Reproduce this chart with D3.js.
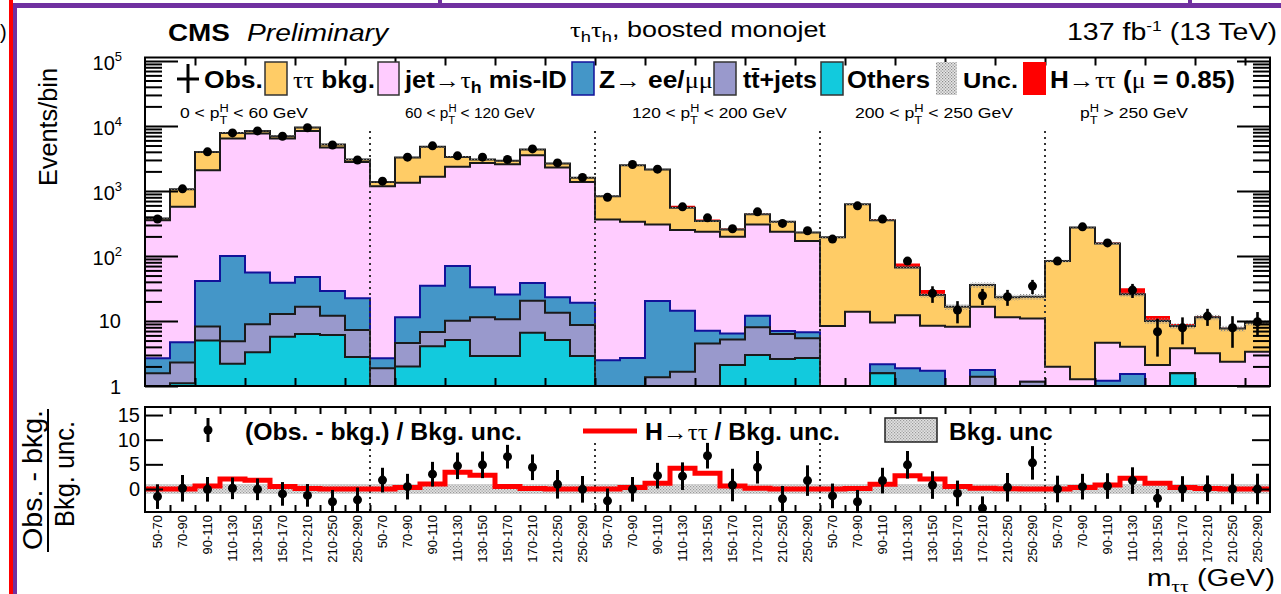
<!DOCTYPE html>
<html>
<head>
<meta charset="utf-8">
<script src="https://cdn.jsdelivr.net/npm/d3@7"></script>
<style>
  body { margin: 0; background: #fff; }
  svg { display: block; }
  text { font-family: "Liberation Sans", Arial, Helvetica, sans-serif; fill: #000; }
</style>
</head>
<body>
<svg id="chart" width="1281" height="594"></svg>
<script>
// ---------------- data ----------------
const massBins = ["50-70", "70-90", "90-110", "110-130", "130-150", "150-170", "170-210", "210-250", "250-290"];
const ptLow  = [0, 60, 120, 200, 250];
const ptHigh = [60, 120, 200, 250, null];

// expected yields per bin (5 pT categories x 9 mass bins)
const others = [
  0.3, 1.1, 5.0, 2.2, 3.3, 5.7, 6.3, 6.1, 2.8,
  0.4, 2.0, 4.1, 5.1, 2.9, 2.9, 6.6, 5.1, 2.9,
  0.2, 0.2, 0.3, 0.3, 0.4, 2.1, 3.0, 2.6, 2.7,
  0.1, 0.1, 1.57, 0.2, 0.2, 0.2, 0.2, 0.1, 0.1,
  0.1, 0.1, 0.2, 0.2, 0.1, 1.57, 0.1, 0.1, 0.1];
const ttjets = [
  1.27, 1.2, 3.2, 2.7, 5.6, 7.1, 10.3, 5.9, 4.5,
  1.47, 2.6, 2.7, 5.0, 8.5, 7.7, 13.9, 8.3, 5.8,
  0.3, 0.3, 1.06, 1.36, 4.1, 3.1, 5.0, 3.7, 2.74,
  0.1, 0.1, 0.0, 0.2, 0.2, 0.2, 1.19, 0.1, 1.06,
  0.1, 0.1, 0.2, 0.2, 0.1, 0.0, 0.1, 0.1, 0.1];
const zll = [
  1.1, 2.4, 33, 95, 47, 26, 31, 17, 15,
  0.8, 6.8, 28, 60, 21.5, 15, 18, 9.7, 10.4,
  2.0, 2.2, 19, 12.7, 2.55, 1.2, 4.0, 0.7, 1.3,
  0.1, 0.1, 0.6, 1.47, 1.32, 0.2, 0.37, 0.1, 0.0,
  0.1, 0.1, 0.8, 1.13, 0.1, 0.0, 0.1, 0.1, 0.1];
const jetFakes = [
  353, 565, 2050, 6310, 7600, 6370, 8350, 4640, 2780,
  1183, 1322, 1614, 2280, 2670, 2560, 3515, 2277, 1361,
  362, 332, 285, 236, 228, 191, 293, 228, 164,
  8.06, 13.6, 7.35, 10.4, 6.7, 7.55, 14.8, 11.1, 9.8,
  1.68, 0.97, 3.42, 2.49, 1.8, 2.23, 2.88, 2.06, 3.07];
const tautau = [
  22, 497, 1900, 1410, 740, 554, 1070, 523, 245,
  194, 1942, 3120, 993, 345, 321, 793, 349, 212,
  467, 2160, 1840, 300, 109, 59, 135, 100, 59,
  185, 613, 346, 54.4, 16.6, 8.45, 19.1, 11.7, 12.6,
  81.4, 274, 151, 21.7, 7.9, 4.56, 8.2, 5.3, 6.0];
const higgs = [
  1, 3, 20, 60, 50, 20, 10, 5, 2,
  2, 10, 40, 80, 60, 50, 15, 5, 2,
  0.5, 5, 15, 40, 21, 8, 5, 2, 1,
  0.2, 3, 13, 10.2, 4.9, 0.4, 0.5, 0.3, 0.2,
  0.2, 2, 6, 6.1, 1.9, 0.6, 0.4, 0.2, 0.2];
const bkgRelUnc = [
  0.02, 0.02, 0.02, 0.02, 0.02, 0.02, 0.02, 0.02, 0.02,
  0.02, 0.02, 0.02, 0.02, 0.02, 0.02, 0.02, 0.02, 0.02,
  0.03, 0.02, 0.02, 0.03, 0.03, 0.03, 0.03, 0.03, 0.03,
  0.04, 0.03, 0.04, 0.06, 0.08, 0.1, 0.1, 0.1, 0.1,
  0.05, 0.04, 0.05, 0.08, 0.1, 0.1, 0.1, 0.1, 0.1];

// observed events and their uncertainties
const observed = [
  370, 1078, 4000, 7820, 8400, 6950, 9400, 5100, 3000,
  1416, 3310, 4940, 3470, 3310, 3050, 4440, 2705, 1614,
  800, 2557, 2166, 570, 386, 262, 478, 317, 244,
  182, 590, 369, 83.4, 26.6, 14.7, 24.4, 23.6, 34.4,
  83.4, 281, 159, 29.9, 6.83, 7.87, 11.9, 7.87, 9.73];
const observedErr = [
  19, 33, 63, 88, 92, 83, 97, 71, 55,
  38, 58, 70, 59, 58, 55, 67, 52, 40,
  28, 51, 47, 24, 20, 16, 22, 18, 16,
  13.5, 24, 19, 9.1, 7.6, 5.5, 6.8, 6.5, 8.5,
  9.1, 17, 12.6, 7.3, 4.0, 3.5, 3.5, 4.0, 4.0];

// lower panel: (obs - bkg) / bkg. unc. and signal / bkg. unc.
const pull = [
  -1.55, 0.14, -0.07, 0.14, -0.07, -1.0, -1.3, -2.6, -2.2,
  1.8, 0.47, 3.0, 4.7, 4.9, 6.55, 4.4, 0.95, -0.07,
  -2.4, -0.07, 2.7, 2.6, 6.75, 0.8, 4.4, -2.0, 1.7,
  -1.4, -2.6, 1.7, 4.9, 0.8, -0.9, -3.9, 0.34, 5.3,
  0, 0.47, 0.6, 1.7, -1.9, 0, 0.14, 0, 0];
const pullErr = [
  2.5, 2.7, 2.5, 2.2, 2.2, 2.4, 2.3, 2.4, 2.5,
  2.5, 2.6, 2.5, 2.7, 2.7, 2.4, 2.6, 2.9, 2.7,
  2.5, 2.5, 2.6, 2.8, 2.6, 3.3, 3.3, 2.6, 3.1,
  2.5, 2.4, 2.6, 2.8, 2.8, 2.6, 2.4, 2.9, 3.4,
  2.7, 2.6, 2.6, 2.7, 1.9, 2.6, 2.6, 3.1, 3.1];
const signalOverUnc = [
  0, 0, 0.6, 2.0, 1.75, 0.5, 0.1, 0, 0,
  0, 0.3, 1.0, 3.4, 2.8, 0.5, 0.1, 0, 0,
  0, 0.3, 1.15, 4.2, 3.2, 0.6, 0.13, 0, 0,
  0, 0.1, 0.95, 2.7, 2.0, 0.5, 0.13, 0.05, 0,
  0, 0.3, 0.8, 2.2, 1.15, 0.3, 0.1, 0, 0];

// ---------------- setup ----------------
const nBins = massBins.length * ptLow.length;
const svg = d3.select("#chart");
const SERIF = '"Liberation Serif", "Times New Roman", serif';

const x = d3.scaleLinear().domain([0, nBins]).range([145, 1270]);
const yTop = d3.scaleLog().domain([1, 1.13e5]).range([386, 57.5]).clamp(true);
const yBot = d3.scaleLinear().domain([-4.67, 16.63]).range([512, 407]);

const [xL, xR] = x.range();
const [topB, topT] = yTop.range();
const [botB, botT] = yBot.range();

const defs = svg.append("defs");
defs.append("clipPath").attr("id", "clipTop").append("rect")
  .attr("x", xL).attr("y", topT).attr("width", xR - xL).attr("height", topB - topT);
defs.append("clipPath").attr("id", "clipBot").append("rect")
  .attr("x", xL).attr("y", botT).attr("width", xR - xL).attr("height", botB - botT);

// stipple fills for the uncertainty bands
const pTop = defs.append("pattern").attr("id", "stipTop").attr("width", 3).attr("height", 3)
  .attr("patternUnits", "userSpaceOnUse");
pTop.append("rect").attr("x", 0).attr("y", 0).attr("width", 1.2).attr("height", 1.2).attr("fill", "#8a8a8a");
pTop.append("rect").attr("x", 1.5).attr("y", 1.5).attr("width", 1.2).attr("height", 1.2).attr("fill", "#8a8a8a");
const pBot = defs.append("pattern").attr("id", "stipBot").attr("width", 3).attr("height", 3)
  .attr("patternUnits", "userSpaceOnUse");
pBot.append("rect").attr("width", 3).attr("height", 3).attr("fill", "#e2e2e2");
pBot.append("rect").attr("x", 0).attr("y", 0).attr("width", 1.2).attr("height", 1.2).attr("fill", "#9a9a9a");
pBot.append("rect").attr("x", 1.5).attr("y", 1.5).attr("width", 1.2).attr("height", 1.2).attr("fill", "#9a9a9a");

// text helper: tspans, optional horizontal fit to a given width
function rich(g, x0, yb, size, parts, width, anchor) {
  const t = g.append("text").attr("x", x0).attr("y", yb).attr("font-size", size);
  if (anchor) t.attr("text-anchor", anchor);
  parts.forEach(p => {
    const s = t.append("tspan").text(p.t);
    if (p.b) s.attr("font-weight", "bold");
    if (p.i) s.attr("font-style", "italic");
    if (p.serif) s.attr("font-family", SERIF).attr("font-weight", "normal");
    if (p.fs) s.attr("font-size", p.fs);
    if (p.dy) s.attr("dy", p.dy);
    if (p.dx) s.attr("dx", p.dx);
  });
  if (width) {
    const w = t.node().getBBox().width;
    const s = width / w;
    t.attr("transform", `translate(${x0},0) scale(${s},1) translate(${-x0},0)`);
  }
  return t;
}

function stepPts(vals) {
  const p = [];
  vals.forEach((v, i) => { p.push([i, v]); p.push([i + 1, v]); });
  return p;
}

// ---------------- page decorations ----------------
svg.append("rect").attr("width", 1281).attr("height", 594).attr("fill", "#fff");
svg.append("rect").attr("x", 14).attr("y", 3).attr("width", 1267).attr("height", 5).attr("fill", "#7030a0");
svg.append("rect").attr("x", 438).attr("y", 0).attr("width", 4).attr("height", 4).attr("fill", "#7030a0");
svg.append("rect").attr("x", 1188).attr("y", 0).attr("width", 4).attr("height", 4).attr("fill", "#7030a0");
svg.append("rect").attr("x", 9).attr("y", 0).attr("width", 4).attr("height", 594).attr("fill", "#ff0000");
svg.append("rect").attr("x", 13).attr("y", 3).attr("width", 4).attr("height", 591).attr("fill", "#7030a0");
svg.append("text").attr("x", 0).attr("y", 39).attr("font-size", 20).text(")");

// ---------------- top panel: stacked histograms ----------------
const rows = d3.range(nBins).map(i => ({
  others: others[i], ttjets: ttjets[i], zll: zll[i],
  jetFakes: jetFakes[i], tautau: tautau[i], higgs: higgs[i]
}));
const keys = ["others", "ttjets", "zll", "jetFakes", "tautau", "higgs"];
const styles = {
  others:   { fill: "#12cadd", stroke: "#1a1a1a" },
  ttjets:   { fill: "#9999cc", stroke: "#1a1a1a" },
  zll:      { fill: "#4496c8", stroke: "#12129a" },
  jetFakes: { fill: "#ffccff", stroke: "#1a1a1a" },
  tautau:   { fill: "#ffcc66", stroke: "#1a1a1a" },
  higgs:    { fill: "#ff0000", stroke: "none" }
};
const stacked = d3.stack().keys(keys)(rows);

const gTop = svg.append("g").attr("clip-path", "url(#clipTop)");
const areaTop = d3.area().x(d => x(d[0])).y0(topB).y1(d => yTop(Math.max(d[1], 0.5)));
const lineTop = d3.line().x(d => x(d[0])).y(d => yTop(Math.max(d[1], 0.5)));

stacked.slice().reverse().forEach(s => {
  const pts = stepPts(s.map(d => d[1]));
  const st = styles[s.key];
  gTop.append("path").attr("d", areaTop(pts)).attr("fill", st.fill);
  if (st.stroke !== "none") {
    gTop.append("path").attr("d", lineTop(pts)).attr("fill", "none")
      .attr("stroke", st.stroke).attr("stroke-width", 2);
  }
});

// background uncertainty band
const bkgTotal = stacked[keys.indexOf("tautau")].map(d => d[1]);
const bandPts = [];
bkgTotal.forEach((v, i) => {
  const lo = v * (1 - bkgRelUnc[i]), hi = v * (1 + bkgRelUnc[i]);
  bandPts.push([i, lo, hi]); bandPts.push([i + 1, lo, hi]);
});
gTop.append("path")
  .attr("d", d3.area().x(d => x(d[0])).y0(d => yTop(d[1])).y1(d => yTop(d[2]))(bandPts))
  .attr("fill", "url(#stipTop)");

// category separators
const catEdges = d3.range(1, ptLow.length).map(c => c * massBins.length);
gTop.selectAll(".sepT").data(catEdges).join("line")
  .attr("x1", d => x(d)).attr("x2", d => x(d)).attr("y1", 131).attr("y2", topB)
  .attr("stroke", "#333").attr("stroke-width", 2).attr("stroke-dasharray", "2,4");

// observed data
const obsG = gTop.append("g");
obsG.selectAll("line").data(observed).join("line")
  .attr("x1", (d, i) => x(i + 0.5)).attr("x2", (d, i) => x(i + 0.5))
  .attr("y1", (d, i) => yTop(Math.max(d - observedErr[i], 0.5)))
  .attr("y2", (d, i) => yTop(d + observedErr[i]))
  .attr("stroke", "#000").attr("stroke-width", 2.6);
obsG.selectAll("circle").data(observed).join("circle")
  .attr("cx", (d, i) => x(i + 0.5)).attr("cy", d => yTop(d)).attr("r", 4.5).attr("fill", "#000");

// axes of the top panel
const logTicks = yTop.ticks();
const isDecade = v => Math.abs(Math.log10(v) - Math.round(Math.log10(v))) < 1e-9;
const majors = logTicks.filter(isDecade);
const minors = logTicks.filter(v => !isDecade(v));

function styleAxis(g) {
  g.select(".domain").remove();
  g.selectAll(".tick line").attr("stroke", "#000").attr("stroke-width", 2);
  g.selectAll(".tick text").remove();
}
svg.append("g").attr("transform", `translate(${xL},0)`)
  .call(d3.axisLeft(yTop).tickValues(majors).tickSize(-33)).call(styleAxis);
svg.append("g").attr("transform", `translate(${xL},0)`)
  .call(d3.axisLeft(yTop).tickValues(minors).tickSize(-17)).call(styleAxis);
svg.append("g").attr("transform", `translate(${xR},0)`)
  .call(d3.axisRight(yTop).tickValues(majors).tickSize(-33)).call(styleAxis);
svg.append("g").attr("transform", `translate(${xR},0)`)
  .call(d3.axisRight(yTop).tickValues(minors).tickSize(-17)).call(styleAxis);
const evenEdges = d3.range(2, nBins, 2);
svg.append("g").attr("transform", `translate(0,${topT})`)
  .call(d3.axisTop(x).tickValues(evenEdges).tickSize(-8)).call(styleAxis);
svg.append("g").attr("transform", `translate(0,${topB})`)
  .call(d3.axisBottom(x).tickValues(evenEdges).tickSize(-8)).call(styleAxis);

svg.append("rect").attr("x", xL).attr("y", topT).attr("width", xR - xL).attr("height", topB - topT)
  .attr("fill", "none").attr("stroke", "#000").attr("stroke-width", 2);

// y tick labels (powers of ten)
majors.forEach(v => {
  const e = Math.round(Math.log10(v));
  const yy = yTop(v);
  if (e >= 2) {
    rich(svg, 122, yy + 9.5, 20, [{ t: "10" }, { t: String(e), fs: 13, dy: -9 }], null, "end");
  } else {
    svg.append("text").attr("x", 121).attr("y", yy + 7.5).attr("text-anchor", "end")
      .attr("font-size", 20).text(e === 1 ? "10" : "1");
  }
});

svg.append("text").attr("transform", "translate(57,127) rotate(-90)")
  .attr("text-anchor", "middle").attr("font-size", 25)
  .attr("textLength", 118).attr("lengthAdjust", "spacingAndGlyphs").text("Events/bin");

// category labels
const catLabelX = [180, 405, 632, 855, 1080];
const catLabelW = [128, 130, 155, 158, 108];
ptLow.forEach((lo, c) => {
  const hi = ptHigh[c];
  const parts = hi === null
    ? [{ t: "p" }, { t: "H", fs: 11, dy: -6 }, { t: "T", fs: 11, dx: -8, dy: 12 }, { t: ` > ${lo} GeV`, dx: 1, dy: -6 }]
    : [{ t: `${lo} < p` }, { t: "H", fs: 11, dy: -6 }, { t: "T", fs: 11, dx: -8, dy: 12 }, { t: ` < ${hi} GeV`, dx: 1, dy: -6 }];
  rich(svg, catLabelX[c], 118, 15, parts, catLabelW[c]);
});

// ---------------- header ----------------
rich(svg, 168, 41, 23.5, [{ t: "CMS", b: 1 }], 62);
rich(svg, 247, 41, 23, [{ t: "Preliminary", i: 1 }], 143);
rich(svg, 570, 37, 22, [
  { t: "τ", serif: 1 }, { t: "h", fs: 15, dy: 5 }, { t: "τ", serif: 1, dy: -5 },
  { t: "h", fs: 15, dy: 5 }, { t: ", boosted monojet", dy: -5 }], 256);
rich(svg, 1067, 40, 23, [{ t: "137 fb" }, { t: "-1", fs: 14, dy: -9 }, { t: " (13 TeV)", dy: 9 }], 210);

// ---------------- legend (top) ----------------
const LY = 88, LS = 23;
const boxY = 62, boxH = 33;
// observed marker
svg.append("line").attr("x1", 177).attr("x2", 199).attr("y1", 79).attr("y2", 79).attr("stroke", "#000").attr("stroke-width", 3);
svg.append("line").attr("x1", 188).attr("x2", 188).attr("y1", 64).attr("y2", 93).attr("stroke", "#000").attr("stroke-width", 3);
rich(svg, 204, LY, LS, [{ t: "Obs.", b: 1 }], 59);

function legBox(x0, w, fill, stroke) {
  svg.append("rect").attr("x", x0).attr("y", boxY).attr("width", w).attr("height", boxH)
    .attr("fill", fill).attr("stroke", stroke || "none").attr("stroke-width", stroke ? 1.5 : 0);
}
legBox(265, 22, styles.tautau.fill, "#333");
rich(svg, 293, LY, LS, [{ t: "ττ", serif: 1 }, { t: " bkg.", b: 1 }], 82);
legBox(378, 21, styles.jetFakes.fill, "#333");
rich(svg, 405, LY, LS, [{ t: "jet", b: 1 }, { t: "→τ", serif: 1 }, { t: "h", b: 1, fs: 16, dy: 5 }, { t: " mis-ID", b: 1, dy: -5 }], 163);
legBox(572, 22, styles.zll.fill, "#12129a");
rich(svg, 599, LY, LS, [{ t: "Z", b: 1 }, { t: "→ ", serif: 1 }, { t: "ee/", b: 1 }, { t: "μμ", serif: 1 }], 114);
legBox(714, 22, styles.ttjets.fill, "#333");
rich(svg, 743, LY, LS, [{ t: "tt\u0304+jets", b: 1 }], 74);
legBox(821, 22, styles.others.fill, "#333");
rich(svg, 847, LY, LS, [{ t: "Others", b: 1 }], 83);
svg.append("rect").attr("x", 936).attr("y", boxY).attr("width", 21).attr("height", boxH).attr("fill", "#e6e6e6");
svg.append("rect").attr("x", 936).attr("y", boxY).attr("width", 21).attr("height", boxH).attr("fill", "url(#stipTop)");
rich(svg, 963, LY, LS, [{ t: "Unc.", b: 1 }], 55);
legBox(1023, 23, styles.higgs.fill);
rich(svg, 1050, LY, LS, [{ t: "H", b: 1 }, { t: "→ττ", serif: 1 }, { t: " (", b: 1 }, { t: "μ", serif: 1 }, { t: " = 0.85)", b: 1 }], 185);

// ---------------- bottom panel ----------------
const gBot = svg.append("g").attr("clip-path", "url(#clipBot)");
gBot.append("rect").attr("x", xL).attr("width", xR - xL)
  .attr("y", yBot(1)).attr("height", yBot(-1) - yBot(1)).attr("fill", "url(#stipBot)");
gBot.selectAll(".sepB").data(catEdges).join("line")
  .attr("x1", d => x(d)).attr("x2", d => x(d)).attr("y1", 443).attr("y2", botB)
  .attr("stroke", "#333").attr("stroke-width", 2).attr("stroke-dasharray", "2,4");
gBot.append("path")
  .attr("d", d3.line().x(d => x(d[0])).y(d => yBot(d[1]))(stepPts(signalOverUnc)))
  .attr("fill", "none").attr("stroke", "#ff0000").attr("stroke-width", 5);
gBot.selectAll(".pe").data(pull).join("line")
  .attr("x1", (d, i) => x(i + 0.5)).attr("x2", (d, i) => x(i + 0.5))
  .attr("y1", (d, i) => yBot(d - pullErr[i])).attr("y2", (d, i) => yBot(d + pullErr[i]))
  .attr("stroke", "#000").attr("stroke-width", 3);
gBot.selectAll(".pp").data(pull).join("circle")
  .attr("cx", (d, i) => x(i + 0.5)).attr("cy", d => yBot(d)).attr("r", 4.5).attr("fill", "#000");

const pullTicks = [0, 5, 10, 15];
svg.append("g").attr("transform", `translate(${xL},0)`)
  .call(d3.axisLeft(yBot).tickValues(pullTicks).tickSize(-18)).call(styleAxis);
svg.append("g").attr("transform", `translate(${xR},0)`)
  .call(d3.axisRight(yBot).tickValues(pullTicks).tickSize(-18)).call(styleAxis);
const allEdges = d3.range(1, nBins);
svg.append("g").attr("transform", `translate(0,${botT})`)
  .call(d3.axisTop(x).tickValues(allEdges).tickSize(-7)).call(styleAxis);
svg.append("g").attr("transform", `translate(0,${botB})`)
  .call(d3.axisBottom(x).tickValues(allEdges).tickSize(-7)).call(styleAxis);
svg.append("rect").attr("x", xL).attr("y", botT).attr("width", xR - xL).attr("height", botB - botT)
  .attr("fill", "none").attr("stroke", "#000").attr("stroke-width", 2);

pullTicks.forEach(v => {
  svg.append("text").attr("x", 140).attr("y", yBot(v) + 7).attr("text-anchor", "end")
    .attr("font-size", 20).text(String(v));
});

// x bin labels
d3.range(nBins).forEach(i => {
  svg.append("text")
    .attr("transform", `translate(${x(i + 0.5)},515) rotate(-90)`)
    .attr("text-anchor", "end").attr("dy", "0.36em").attr("font-size", 13)
    .text(massBins[i % massBins.length]);
});

// lower y title (fraction)
svg.append("text").attr("transform", "translate(42,480) rotate(-90)")
  .attr("text-anchor", "middle").attr("font-size", 27)
  .attr("textLength", 140).attr("lengthAdjust", "spacingAndGlyphs").text("Obs. - bkg.");
svg.append("line").attr("x1", 48).attr("x2", 48).attr("y1", 409).attr("y2", 552)
  .attr("stroke", "#000").attr("stroke-width", 2);
svg.append("text").attr("transform", "translate(74,474) rotate(-90)")
  .attr("text-anchor", "middle").attr("font-size", 27)
  .attr("textLength", 106).attr("lengthAdjust", "spacingAndGlyphs").text("Bkg. unc.");

// x title
rich(svg, 1147, 586, 23, [{ t: "m" }, { t: "ττ", serif: 1, fs: 17, dy: 6 }, { t: " (GeV)", dy: -6 }], 128);

// bottom legend
svg.append("line").attr("x1", 208).attr("x2", 208).attr("y1", 418).attr("y2", 442).attr("stroke", "#000").attr("stroke-width", 3);
svg.append("circle").attr("cx", 208).attr("cy", 430).attr("r", 4.5).attr("fill", "#000");
rich(svg, 245, 440, 23, [{ t: "(Obs. - bkg.) / Bkg. unc.", b: 1 }], 277);
svg.append("line").attr("x1", 583).attr("x2", 637).attr("y1", 431).attr("y2", 431).attr("stroke", "#ff0000").attr("stroke-width", 5);
rich(svg, 645, 440, 23, [{ t: "H", b: 1 }, { t: "→ττ", serif: 1 }, { t: " / Bkg. unc.", b: 1 }], 195);
svg.append("rect").attr("x", 885).attr("y", 418).attr("width", 52).attr("height", 24)
  .attr("fill", "url(#stipBot)").attr("stroke", "#222").attr("stroke-width", 1.5);
rich(svg, 949, 440, 23, [{ t: "Bkg. unc", b: 1 }], 104);
</script>
</body>
</html>
